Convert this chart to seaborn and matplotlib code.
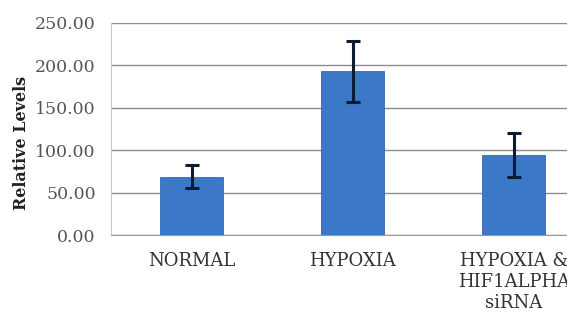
import matplotlib
matplotlib.use("Agg")
import matplotlib.pyplot as plt
import seaborn as sns
import pandas as pd

# data
groups = ['NORMAL', 'HYPOXIA', 'HYPOXIA &\nHIF1ALPHA\nsiRNA']
levels = [68.5, 192.5, 94.0]
errors = [13.5, 36.0, 26.0]
yticks = [0, 50, 100, 150, 200, 250]

sns.set_style("white")
plt.rcParams['font.family'] = ['DejaVu Serif']

df = pd.DataFrame({'group': groups, 'level': levels})

fig = plt.figure(figsize=(5.67, 3.13), dpi=100)
ax = fig.add_axes([0.196, 0.249, 0.804, 0.679])

sns.barplot(data=df, x='group', y='level', color='#3B78C8', width=0.39,
            saturation=1, edgecolor='#3469B0', linewidth=0.6, ax=ax, zorder=3)
ax.errorbar(range(len(groups)), levels, yerr=errors, fmt='none',
            ecolor='#0d1a33', elinewidth=2.2, capsize=5, capthick=2.2, zorder=4)

ax.set_ylim(0, 250)
ax.set_xlim(-0.5, 2.33)
ax.set_yticks(yticks)
ax.set_yticklabels([f'{v:.2f}' for v in yticks], fontsize=12.5, color='#555555')
ax.set_xticks([0.5, 1.5], minor=True)
ax.tick_params(axis='x', which='major', length=0, labelsize=13, colors='#333333', pad=12.5)
ax.tick_params(axis='x', which='minor', length=4, color='#aaaaaa', width=1)
ax.tick_params(axis='y', length=3, color='#999999', width=1, pad=8)
ax.yaxis.grid(True, color='#8c8c8c', linewidth=1, zorder=0)
ax.set_axisbelow(True)

for s in ['top', 'right']:
    ax.spines[s].set_visible(False)
ax.spines['left'].set_color('#c8c8c8')
ax.spines['bottom'].set_color('#999999')

ax.set_xlabel('')
ax.set_ylabel('Relative Levels', fontsize=11.5, fontweight='bold', color='#222222')
ax.yaxis.set_label_coords(-0.178, 0.433)

fig.savefig('out.png', dpi=100)
